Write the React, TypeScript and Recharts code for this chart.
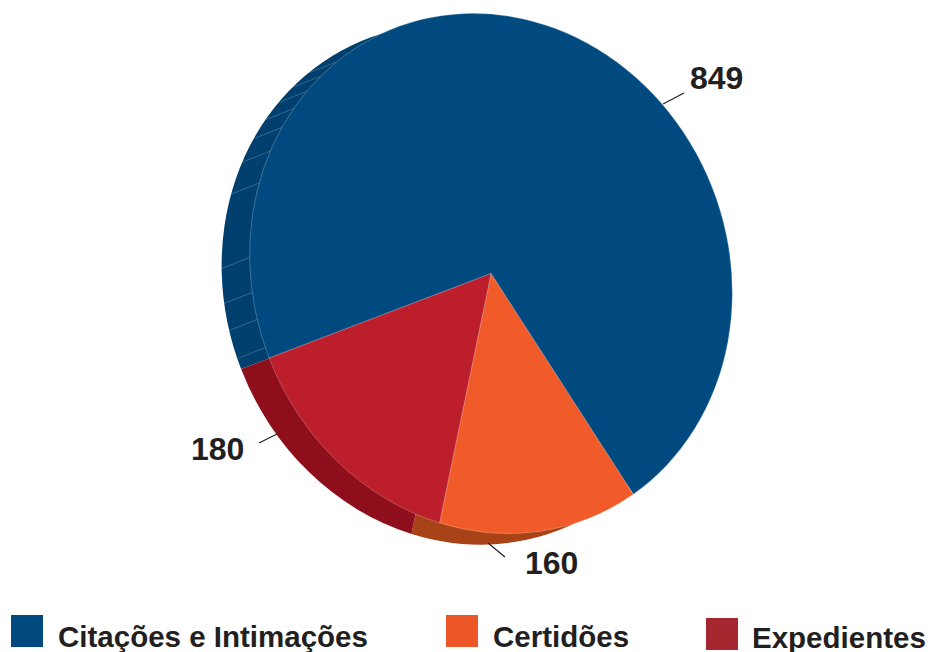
import { Cell, Legend, Pie, PieChart, Sector } from "recharts";

const categories = ["Citações e Intimações", "Certidões", "Expedientes"];
const values = [849, 160, 180];
const topColors = ["#004a80", "#f15a29", "#bc1e2c"];
const sideColors = ["#003f6e", "#a84318", "#8f0e1c"];
const legendColors = ["#004a80", "#ed5626", "#a6262f"];

const data = categories.map((name, i) => ({ name, value: values[i] }));

// the pie is tilted: every point of the circle goes through this matrix
const RADIUS = 250;
const TILT = [241.2 / RADIUS, 9.19 / RADIUS, 9.19 / RADIUS, 260 / RADIUS];
const CX = 491;
const CY = 273.5;
const SIDE_DX = -28;
const SIDE_DY = 11;
const START = 201;

// angles of the thin facet lines on the side wall
const facetAngles = [
  127.6, 132.7, 137.6, 142.7, 147.9, 154, 161.7, 178.5, 186.2, 192.2, 198.6,
  205.1, 211.8, 219, 229, 251.5, 265.7, 272.3, 278.3, 285.6,
];

const leaders = [
  { x1: 663, y1: 104, x2: 684, y2: 93, tx: 690, ty: 89 },
  { x1: 488, y1: 543, x2: 505, y2: 557, tx: 525, ty: 574 },
  { x1: 277, y1: 434, x2: 259, y2: 443, tx: 191, ty: 460 },
];

const legendLayout = [
  { x: 11, y: 615, textX: 58, baseline: 645 },
  { x: 446, y: 615, textX: 493, baseline: 645 },
  { x: 706, y: 618, textX: 752, baseline: 646 },
];

const tiltTransform = (cx: number, cy: number) =>
  `translate(${cx} ${cy}) matrix(${TILT.join(" ")} 0 0) translate(${-cx} ${-cy})`;

const onEllipse = (angle: number, cx: number, cy: number) => {
  const a = (angle * Math.PI) / 180;
  const ux = Math.cos(a);
  const uy = -Math.sin(a);
  return {
    x: cx + RADIUS * (TILT[0] * ux + TILT[1] * uy),
    y: cy + RADIUS * (TILT[2] * ux + TILT[3] * uy),
  };
};

function TopSlice(props: any) {
  return (
    <g transform={tiltTransform(props.cx, props.cy)}>
      <Sector
        {...props}
        stroke="#ffffff"
        strokeOpacity={0.4}
        strokeWidth={0.6}
        vectorEffect="non-scaling-stroke"
      />
    </g>
  );
}

function SideSlice(props: any) {
  const lo = Math.min(props.startAngle, props.endAngle);
  const hi = Math.max(props.startAngle, props.endAngle);
  const lines = facetAngles.filter((a) => a > lo && a < hi);
  return (
    <g>
      <g transform={tiltTransform(props.cx, props.cy)}>
        <Sector {...props} stroke="none" />
      </g>
      {lines.map((a) => {
        const p = onEllipse(a, CX, CY);
        const q = onEllipse(a, props.cx, props.cy);
        return (
          <line
            key={a}
            x1={p.x}
            y1={p.y}
            x2={q.x}
            y2={q.y}
            stroke="#ffffff"
            strokeOpacity={0.3}
            strokeWidth={0.7}
          />
        );
      })}
    </g>
  );
}

function ValueLabel(props: any) {
  const l = leaders[props.index];
  return (
    <g>
      <line x1={l.x1} y1={l.y1} x2={l.x2} y2={l.y2} stroke="#231f20" strokeWidth={1.2} />
      <text
        x={l.tx}
        y={l.ty}
        fontFamily="Liberation Sans"
        fontWeight="bold"
        fontSize={32}
        fill="#231f20"
      >
        {values[props.index]}
      </text>
    </g>
  );
}

function ChartLegend() {
  return (
    <div style={{ position: "relative", width: 928, height: 652 }}>
      {categories.map((name, i) => {
        const l = legendLayout[i];
        return (
          <div key={name}>
            <div
              style={{
                position: "absolute",
                left: l.x,
                top: l.y,
                width: 32,
                height: 32,
                background: legendColors[i],
              }}
            />
            <div
              style={{
                position: "absolute",
                left: l.textX,
                top: l.baseline - 23,
                lineHeight: "29px",
                fontFamily: "Liberation Sans",
                fontWeight: "bold",
                fontSize: 29.5,
                color: "#231f20",
                whiteSpace: "nowrap",
              }}
            >
              {name}
            </div>
          </div>
        );
      })}
    </div>
  );
}

export default function App() {
  return (
    <div style={{ position: "absolute", left: 0, top: 0, width: 928, height: 652 }}>
      <PieChart width={928} height={652} margin={{ top: 0, right: 0, bottom: 0, left: 0 }}>
        <Pie
          data={data}
          dataKey="value"
          nameKey="name"
          cx={CX + SIDE_DX}
          cy={CY + SIDE_DY}
          outerRadius={RADIUS}
          startAngle={START}
          endAngle={START - 360}
          legendType="none"
          shape={SideSlice}
          stroke="none"
          isAnimationActive={false}
        >
          {data.map((d, i) => (
            <Cell key={d.name} fill={sideColors[i]} />
          ))}
        </Pie>
        <Pie
          data={data}
          dataKey="value"
          nameKey="name"
          cx={CX}
          cy={CY}
          outerRadius={RADIUS}
          startAngle={START}
          endAngle={START - 360}
          shape={TopSlice}
          label={ValueLabel}
          labelLine={false}
          isAnimationActive={false}
        >
          {data.map((d, i) => (
            <Cell key={d.name} fill={topColors[i]} />
          ))}
        </Pie>
        <Legend
          content={ChartLegend}
          wrapperStyle={{ position: "absolute", left: 0, top: 0, width: 928, height: 652, pointerEvents: "none" }}
        />
      </PieChart>
    </div>
  );
}
